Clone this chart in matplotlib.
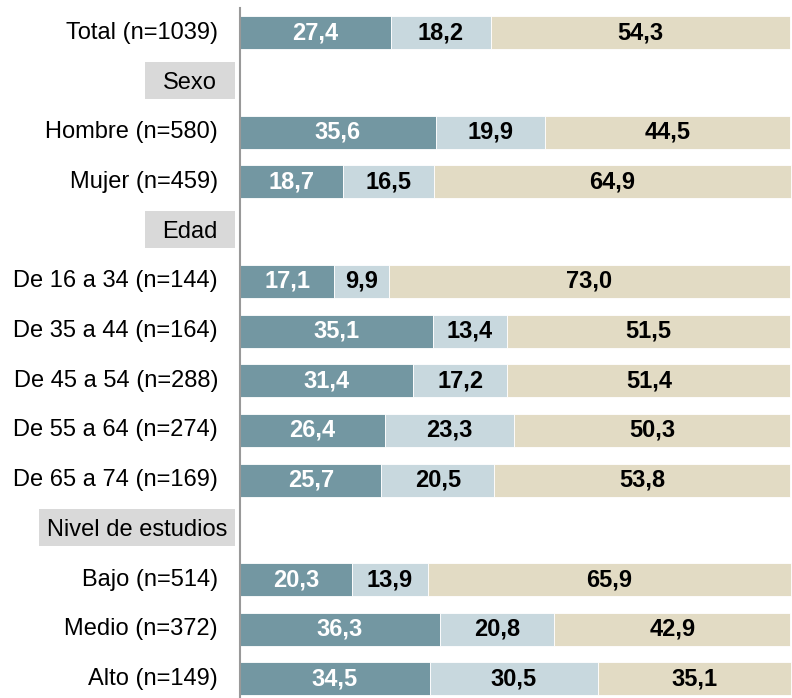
import matplotlib
matplotlib.use("Agg")
import matplotlib.pyplot as plt
from matplotlib.patches import Rectangle
from matplotlib.transforms import blended_transform_factory

plt.rcParams['font.family'] = ['Liberation Sans', 'DejaVu Sans']

# Rows from top to bottom; section header rows carry no bars
rows = ["Total (n=1039)", "Sexo", "Hombre (n=580)", "Mujer (n=459)", "Edad",
        "De 16 a 34 (n=144)", "De 35 a 44 (n=164)", "De 45 a 54 (n=288)",
        "De 55 a 64 (n=274)", "De 65 a 74 (n=169)", "Nivel de estudios",
        "Bajo (n=514)", "Medio (n=372)", "Alto (n=149)"]
headers = ["Sexo", "Edad", "Nivel de estudios"]

serie_1 = [27.4, None, 35.6, 18.7, None, 17.1, 35.1, 31.4, 26.4, 25.7, None, 20.3, 36.3, 34.5]
serie_2 = [18.2, None, 19.9, 16.5, None, 9.9, 13.4, 17.2, 23.3, 20.5, None, 13.9, 20.8, 30.5]
serie_3 = [54.3, None, 44.5, 64.9, None, 73.0, 51.5, 51.4, 50.3, 53.8, None, 65.9, 42.9, 35.1]

colors = ["#7397A2", "#C8D8DE", "#E2DBC4"]
text_colors = ["white", "black", "black"]

W, H, DPI = 792, 698, 100
fig = plt.figure(figsize=(W / DPI, H / DPI), dpi=DPI)

row_px = 49.7
top_px = 8
n = len(rows)
ax_h_px = n * row_px
ax = fig.add_axes([240 / W, 1 - (top_px + ax_h_px) / H, 1 - 240 / W, ax_h_px / H])
ax.set_xlim(0, 100.3)
ax.set_ylim(n - 0.5, -0.5)

FS = 17
bar_h = 0.665
for i, label in enumerate(rows):
    if label in headers:
        continue
    left = 0
    for k, vals in enumerate([serie_1, serie_2, serie_3]):
        v = vals[i]
        ax.barh(i, v, left=left, height=bar_h, color=colors[k],
                edgecolor="white", linewidth=0.6)
        ax.text(left + v / 2, i, f"{v:.1f}".replace(".", ","),
                ha="center", va="center", fontsize=FS, fontweight="bold",
                color=text_colors[k])
        left += v

# Category labels and section headers to the left of the axis
trans = blended_transform_factory(fig.transFigure, ax.transData)
header_w = {"Sexo": 90, "Edad": 90, "Nivel de estudios": 196}
for i, label in enumerate(rows):
    if label in headers:
        w = header_w[label]
        right = 235 / W
        box_h = 0.75
        rect = Rectangle((right - w / W, i - box_h / 2 - 0.04), w / W, box_h,
                         transform=trans, facecolor="#D9D9D9", edgecolor="none",
                         clip_on=False, zorder=1)
        ax.add_patch(rect)
        ax.text(right - w / (2 * W), i, label, transform=trans,
                ha="center", va="center", fontsize=FS, color="black", zorder=5)
    else:
        ax.text(218 / W, i, label, transform=trans,
                ha="right", va="center", fontsize=FS, color="black")

for s in ["top", "right", "bottom"]:
    ax.spines[s].set_visible(False)
ax.spines["left"].set_color("#999999")
ax.spines["left"].set_linewidth(1.5)
ax.set_xticks([])
ax.set_yticks([])

fig.savefig("out.png", dpi=DPI)
